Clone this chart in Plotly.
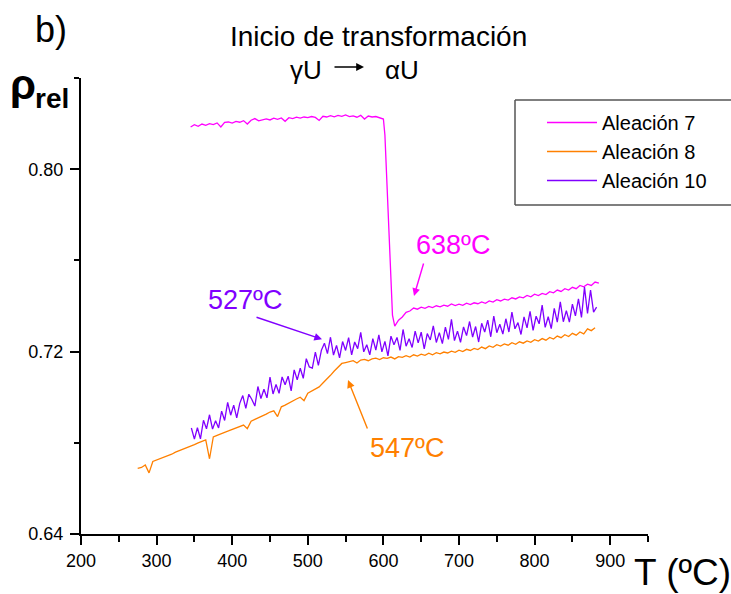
import plotly.graph_objects as go

# ---------------- data ----------------
# Aleación 7 (magenta)
t7 = (list(range(345, 601, 5)) + [602, 604, 606, 608, 610, 612]
      + list(range(615, 886, 5)))
rho7 = [
    0.8185, 0.8195, 0.8188, 0.8198, 0.8192, 0.8200, 0.8196, 0.8203, 0.8185, 0.8205,
    0.8207, 0.8202, 0.8210, 0.8206, 0.8213, 0.8198, 0.8215, 0.8222, 0.8212, 0.8218,
    0.8221, 0.8216, 0.8224, 0.8219, 0.8225, 0.8210, 0.8226, 0.8222, 0.8228, 0.8224,
    0.8229, 0.8226, 0.8231, 0.8227, 0.8214, 0.8232, 0.8229, 0.8235, 0.8230, 0.8236,
    0.8232, 0.8238, 0.8231, 0.8234, 0.8228, 0.8236, 0.8220, 0.8233, 0.8229, 0.8231,
    0.8226, 0.8220,
    0.8150, 0.8000, 0.7820, 0.7640, 0.7480, 0.7360,
    0.7312, 0.7338, 0.7352, 0.7372, 0.7378, 0.7391, 0.7386, 0.7395, 0.7390, 0.7398,
    0.7393, 0.7401, 0.7396, 0.7404, 0.7399, 0.7409, 0.7402, 0.7408, 0.7403, 0.7412,
    0.7406, 0.7414, 0.7410, 0.7418, 0.7412, 0.7422, 0.7417, 0.7428, 0.7422, 0.7430,
    0.7426, 0.7436, 0.7431, 0.7440, 0.7436, 0.7446, 0.7440, 0.7452, 0.7446, 0.7455,
    0.7450, 0.7463, 0.7458, 0.7470, 0.7464, 0.7476, 0.7470, 0.7482, 0.7476, 0.7490,
    0.7484, 0.7496, 0.7490, 0.7505, 0.7500,
]

# Aleación 8 (orange)
t8 = list(range(275, 881, 5))
rho8 = [
    0.6688, 0.6692, 0.6703, 0.6668, 0.6718, 0.6724, 0.6732, 0.6738, 0.6745, 0.6750,
    0.6759, 0.6765, 0.6772, 0.6778, 0.6786, 0.6792, 0.6800, 0.6806, 0.6813, 0.6730,
    0.6826, 0.6833, 0.6838, 0.6846, 0.6852, 0.6858, 0.6865, 0.6872, 0.6878, 0.6862,
    0.6895, 0.6903, 0.6910, 0.6920, 0.6926, 0.6935, 0.6940, 0.6915, 0.6958, 0.6965,
    0.6975, 0.6985, 0.6992, 0.7000, 0.6985, 0.7018, 0.7027, 0.7036, 0.7045, 0.7062,
    0.7078, 0.7096, 0.7115, 0.7132, 0.7148, 0.7152, 0.7157, 0.7160, 0.7150, 0.7163,
    0.7166, 0.7160, 0.7168, 0.7171, 0.7165, 0.7173, 0.7170, 0.7176, 0.7168, 0.7178,
    0.7175, 0.7182, 0.7176, 0.7186, 0.7180, 0.7189, 0.7184, 0.7193, 0.7186, 0.7195,
    0.7190, 0.7198, 0.7194, 0.7202, 0.7197, 0.7206, 0.7200, 0.7210, 0.7205, 0.7214,
    0.7209, 0.7220, 0.7213, 0.7225, 0.7219, 0.7230, 0.7224, 0.7234, 0.7228, 0.7239,
    0.7232, 0.7243, 0.7237, 0.7247, 0.7241, 0.7252, 0.7246, 0.7257, 0.7250, 0.7262,
    0.7255, 0.7268, 0.7261, 0.7274, 0.7266, 0.7280, 0.7272, 0.7286, 0.7278, 0.7300,
    0.7292, 0.7305,
]

# Aleación 10 (violet)
t10 = list(range(346, 883, 4))
rho10 = [
    0.6865, 0.6816, 0.6866, 0.6817, 0.6899, 0.6861, 0.6923, 0.6860, 0.6897, 0.6865,
    0.6939, 0.6898, 0.6977, 0.6921, 0.6965, 0.6909, 0.6973, 0.7007, 0.6951, 0.7013,
    0.6990, 0.6961, 0.7047, 0.6994, 0.7035, 0.6997, 0.7088, 0.7014, 0.7056, 0.7017,
    0.7089, 0.7055, 0.7092, 0.7028, 0.7120, 0.7076, 0.7127, 0.7083, 0.7169, 0.7133,
    0.7128, 0.7198, 0.7140, 0.7206, 0.7237, 0.7191, 0.7263, 0.7185, 0.7227, 0.7173,
    0.7244, 0.7205, 0.7261, 0.7186, 0.7242, 0.7213, 0.7284, 0.7199, 0.7230, 0.7186,
    0.7257, 0.7207, 0.7273, 0.7199, 0.7245, 0.7181, 0.7268, 0.7230, 0.7262, 0.7205,
    0.7297, 0.7224, 0.7256, 0.7218, 0.7290, 0.7238, 0.7285, 0.7212, 0.7279, 0.7251,
    0.7313, 0.7240, 0.7283, 0.7235, 0.7307, 0.7254, 0.7341, 0.7248, 0.7290, 0.7241,
    0.7308, 0.7270, 0.7332, 0.7264, 0.7310, 0.7242, 0.7324, 0.7286, 0.7338, 0.7265,
    0.7356, 0.7283, 0.7320, 0.7277, 0.7344, 0.7286, 0.7373, 0.7300, 0.7327, 0.7275,
    0.7352, 0.7304, 0.7376, 0.7293, 0.7355, 0.7322, 0.7404, 0.7306, 0.7353, 0.7301,
    0.7390, 0.7329, 0.7418, 0.7331, 0.7380, 0.7329, 0.7408, 0.7357, 0.7431, 0.7350,
    0.7483, 0.7367, 0.7470, 0.7373, 0.7395,
]

series_names = ["Aleación 7", "Aleación 8", "Aleación 10"]
series_colors = ["#FF00FF", "#FF8000", "#8000FF"]

x_major = [200, 300, 400, 500, 600, 700, 800, 900]
x_minor = [250, 350, 450, 550, 650, 750, 850, 950]
y_major = [0.64, 0.72, 0.80]
y_major_text = ["0.64", "0.72", "0.80"]
y_minor = [0.68, 0.76, 0.84]

# ---------------- figure ----------------
W, H = 731, 594
ML, MR, MT, MB = 81, 83, 78, 60
PW, PH = W - ML - MR, H - MT - MB


def px(xp):
    return (xp - ML) / PW


def py(yp):
    return (H - MB - yp) / PH


FONT = "Liberation Sans, Arial, Helvetica, sans-serif"

fig = go.Figure()
for t, r, name, col in zip([t7, t8, t10], [rho7, rho8, rho10], series_names, series_colors):
    fig.add_trace(go.Scatter(x=t, y=r, mode="lines", name=name,
                             line=dict(color=col, width=1.3)))

fig.update_layout(
    width=W, height=H,
    margin=dict(l=ML, r=MR, t=MT, b=MB, pad=0, autoexpand=False),
    paper_bgcolor="white", plot_bgcolor="white",
    font=dict(family=FONT, color="black", size=18),
    showlegend=True,
    legend=dict(x=px(542), y=py(103), xanchor="left", yanchor="top",
                font=dict(size=20, family=FONT), bgcolor="rgba(0,0,0,0)",
                bordercolor="rgba(0,0,0,0)", borderwidth=0,
                itemwidth=50, tracegroupgap=0),
    xaxis=dict(range=[200, 950], showgrid=False, zeroline=False,
               showline=True, linecolor="black", linewidth=2,
               ticks="outside", ticklen=9, tickwidth=1.5, tickcolor="black",
               tickvals=x_major, ticktext=[str(v) for v in x_major],
               tickfont=dict(size=18, family=FONT),
               minor=dict(tickvals=x_minor, ticks="outside", ticklen=6,
                          tickwidth=1.5, tickcolor="black", showgrid=False)),
    yaxis=dict(range=[0.64, 0.84], showgrid=False, zeroline=False,
               showline=True, linecolor="black", linewidth=2,
               ticks="outside", ticklen=9, tickwidth=1.5, tickcolor="black",
               tickvals=y_major, ticktext=y_major_text, ticklabelstandoff=3,
               tickfont=dict(size=18, family=FONT),
               minor=dict(tickvals=y_minor, ticks="outside", ticklen=5,
                          tickwidth=1.5, tickcolor="black", showgrid=False)),
)

# legend frame: open on the right (it runs past the picture edge in the reference)
frame = dict(type="line", xref="paper", yref="paper",
             line=dict(color="#555555", width=1.5))
fig.add_shape(**frame, x0=px(515), x1=px(760), y0=py(100), y1=py(100))
fig.add_shape(**frame, x0=px(515), x1=px(760), y0=py(205), y1=py(205))
fig.add_shape(**frame, x0=px(515), x1=px(515), y0=py(100), y1=py(205))

ann = []
# outer texts
ann.append(dict(text="b)", x=px(51), y=py(30), font=dict(size=36)))
ann.append(dict(text="Inicio de transformación", x=px(378), y=py(36), font=dict(size=28)))
ann.append(dict(text="γU", x=px(306), y=py(70), font=dict(size=26)))
ann.append(dict(text="αU", x=px(402), y=py(70), font=dict(size=26)))
ann.append(dict(text="<b>ρ</b>", x=px(23), y=py(84), font=dict(size=42)))
ann.append(dict(text="<b>rel</b>", x=px(52), y=py(98), font=dict(size=28)))
ann.append(dict(text="T (ºC)", x=px(682), y=py(572), font=dict(size=37)))
for a in ann:
    a.update(xref="paper", yref="paper", showarrow=False,
             xanchor="center", yanchor="middle")
    fig.add_annotation(**a)

# gamma -> alpha arrow
fig.add_annotation(xref="paper", yref="paper", axref="pixel", ayref="pixel",
                   x=px(364), y=py(67), ax=-31, ay=0, text="", showarrow=True,
                   arrowhead=2, arrowsize=1.2, arrowwidth=1.3, arrowcolor="black")

# temperature labels (data coordinates)
labels = [
    ("527ºC", 416.9, 0.7426, "#8000FF"),
    ("638ºC", 692.0, 0.7668, "#FF00FF"),
    ("547ºC", 631.2, 0.6777, "#FF8000"),
]
for txt, xv, yv, col in labels:
    fig.add_annotation(x=xv, y=yv, text=txt, showarrow=False,
                       font=dict(size=27, color=col), xanchor="center", yanchor="middle")

arrows = [
    (518.8, 0.7254, 430.2, 0.7353, "#8000FF"),
    (640.5, 0.7444, 653.7, 0.7593, "#FF00FF"),
    (553.2, 0.7075, 579.6, 0.6856, "#FF8000"),
]
for xh, yh, xt, yt, col in arrows:
    fig.add_annotation(x=xh, y=yh, ax=xt, ay=yt, axref="x", ayref="y",
                       text="", showarrow=True, arrowhead=2, arrowsize=1.1,
                       arrowwidth=1.4, arrowcolor=col)

fig.write_html("out.html")
